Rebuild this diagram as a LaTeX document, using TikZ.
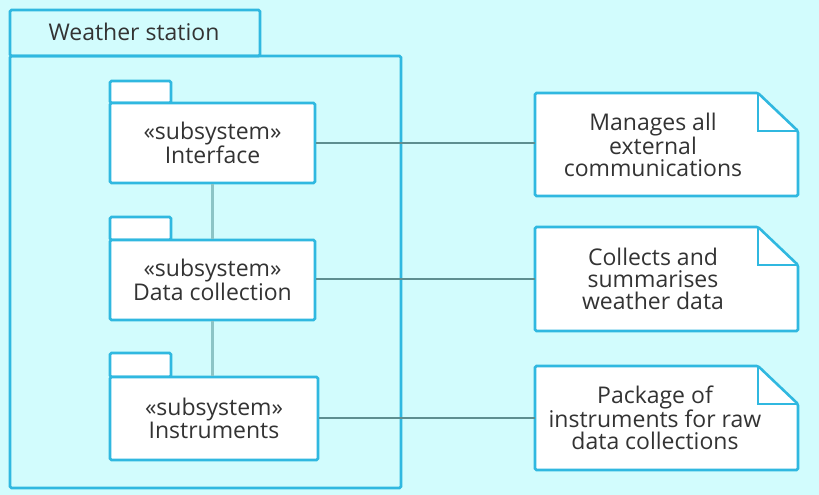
\documentclass[tikz,border=0pt]{standalone}
\usepackage{fontspec}
\setmainfont{Open Sans}
\definecolor{bgc}{HTML}{D2FCFD}
\definecolor{bord}{HTML}{30B8E0}
\definecolor{conn}{HTML}{5E8E90}
\definecolor{vconn}{HTML}{8CC4C6}
\definecolor{txt}{HTML}{333333}
\tikzset{
  border/.style={draw=bord, line width=2.6pt, rounded corners=1.5pt},
  pkgbody/.style={border, fill=white, minimum width=205pt, minimum height=80pt, align=center, text=txt, font=\fontsize{23}{22.5}\selectfont, inner sep=0pt},
  pkgtab/.style={border, fill=white},
  notetext/.style={align=center, text=txt, font=\fontsize{23}{22}\selectfont, inner sep=0pt},
  link/.style={draw=conn, line width=1.5pt},
  vlink/.style={draw=vconn, line width=2.4pt},
}
\begin{document}
\begin{tikzpicture}[x=1pt,y=-1pt]
\useasboundingbox[fill=bgc] (0,0) rectangle (819,495);
% outer package
\draw[border] (10,56) rectangle (401,488);
\draw[border] (10,10) rectangle (260,56);
\node[text=txt, font=\fontsize{23}{23}\selectfont, inner sep=0pt] (ws) at (134,32) {Weather station};
% subsystem packages
\draw[pkgtab] (110,81) rectangle (171,103);
\node[pkgbody] (iface) at (212.5,143) {«subsystem»\\Interface};
\draw[pkgtab] (110,217) rectangle (171,240);
\node[pkgbody] (data) at (212.5,280) {«subsystem»\\Data collection};
\draw[pkgtab] (110,353) rectangle (171,377);
\node[pkgbody, minimum width=208pt, minimum height=83pt] (inst) at (214,418.5) {«subsystem»\\Instruments};
% notes
\foreach \n/\t/\b in {n1/93/196, n2/227/331, n3/366/470}{
  \draw[border, fill=white] (535,\t) -- (758,\t) -- (798,\t+38) -- (798,\b) -- (535,\b) -- cycle;
  \draw[draw=bord, line width=1.5pt] (758,\t) -- (758,\t+38) -- (798,\t+38);
}
\coordinate (n1) at (535,143);
\coordinate (n2) at (535,279);
\coordinate (n3) at (535,418);
\node[notetext] (t1) at (653,145) {Manages all\\external\\communications};
\node[notetext] (t2) at (653,279) {Collects and\\summarises\\weather data};
\node[notetext] (t3) at (655,418) {Package of\\instruments for raw\\data collections};
% connectors
\draw[vlink] (iface.south) -- (data.north);
\draw[vlink] (data.south) -- (data.south |- inst.north);
\draw[link] (iface.east) -- (n1);
\draw[link] (data.east |- n2) -- (n2);
\draw[link] (inst.east |- n3) -- (n3);
\end{tikzpicture}
\end{document}
